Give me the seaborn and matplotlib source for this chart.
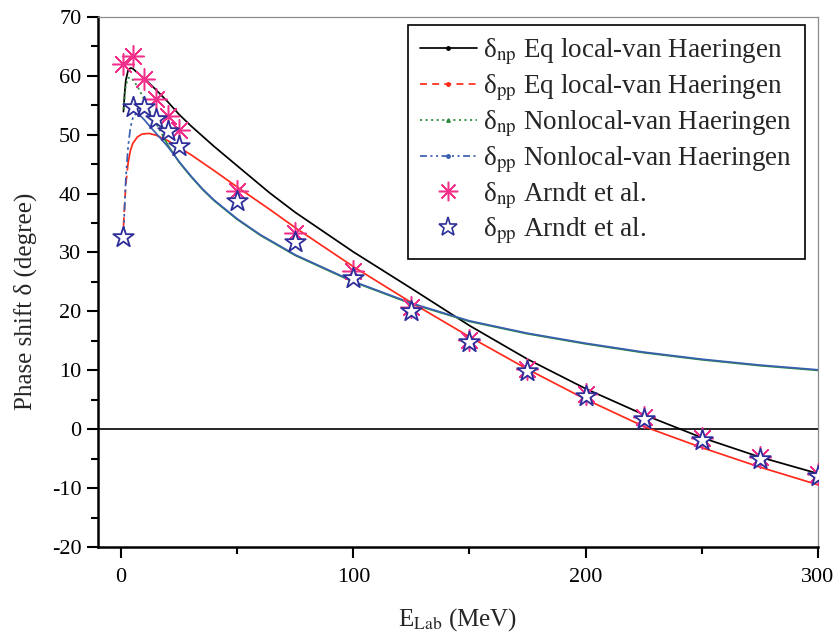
import matplotlib
matplotlib.use("Agg")
import matplotlib.pyplot as plt
from matplotlib.lines import Line2D
from matplotlib.ticker import MultipleLocator
import seaborn as sns

# ---- theoretical phase shifts (degrees) vs lab energy (MeV) ----
e_np_eq = [1, 1.5, 2, 3, 4, 5, 7, 10, 15, 20, 25, 30, 40, 50, 64, 75,
           100, 125, 150, 175, 200, 225, 250, 275, 300]
d_np_eq = [53.9, 57.0, 59.2, 60.9, 61.3, 61.2, 60.5, 59.5, 57.6, 55.6, 53.4,
           51.5, 48.0, 44.7, 40.1, 36.8, 30.1, 23.9, 17.6, 11.9, 6.9, 2.5,
           -1.4, -4.7, -7.5]

e_pp_eq = [1, 2, 3, 4, 5, 7, 9, 12, 15, 20, 25, 30, 40, 50, 64, 75,
           100, 125, 150, 175, 200, 225, 250, 275, 300]
d_pp_eq = [34.5, 41.5, 45.2, 47.3, 48.5, 49.6, 50.1, 50.2, 49.9, 49.0, 47.8,
           46.6, 43.9, 41.1, 37.3, 34.2, 27.6, 21.5, 15.7, 10.2, 5.1, 0.5,
           -3.1, -6.4, -9.4]

e_np_nl = [1, 2, 3, 4, 5, 7, 10, 12, 15, 18, 20, 25, 30, 35, 40, 50, 60, 75,
           100, 125, 150, 175, 200, 225, 250, 275, 300]
d_np_nl = [54.3, 58.3, 59.6, 59.7, 59.3, 58.2, 55.9, 54.2, 51.9, 49.8, 48.3,
           45.3, 42.9, 40.7, 38.8, 35.6, 32.9, 29.5, 25.0, 21.3, 18.3, 16.2,
           14.5, 13.0, 11.8, 10.8, 10.0]

e_pp_nl = [1, 2, 3, 4, 5, 6, 7, 8, 10, 13, 16, 20, 25, 30, 35, 40, 50, 60, 75,
           100, 125, 150, 175, 200, 225, 250, 275, 300]
d_pp_nl = [33.0, 42.5, 48.0, 51.2, 52.8, 53.4, 53.5, 53.3, 52.5, 51.1, 49.8,
           48.0, 45.4, 43.0, 40.8, 38.9, 35.7, 33.0, 29.6, 25.1, 21.4, 18.4,
           16.3, 14.6, 13.1, 11.9, 10.9, 10.1]

# ---- Arndt et al. phase-shift analysis ----
e_data = [1, 5, 10, 15, 20, 25, 50, 75, 100, 125, 150, 175, 200, 225, 250, 275, 300]
d_np_data = [62.0, 63.4, 59.5, 56.0, 53.1, 50.8, 40.5, 33.3, 26.9, 20.8, 15.2,
             10.3, 6.0, 2.1, -1.5, -4.7, -7.6]
d_pp_data = [32.7, 54.6, 54.6, 52.6, 50.6, 48.1, 38.8, 31.8, 25.6, 20.0, 14.8,
             9.9, 5.7, 1.7, -1.8, -5.0, -7.9]

x_ticks = [0, 100, 200, 300]
y_ticks = [-20, -10, 0, 10, 20, 30, 40, 50, 60, 70]

labels = [r"δ$_{\mathrm{np}}$ Eq local-van Haeringen",
          r"δ$_{\mathrm{pp}}$ Eq local-van Haeringen",
          r"δ$_{\mathrm{np}}$ Nonlocal-van Haeringen",
          r"δ$_{\mathrm{pp}}$ Nonlocal-van Haeringen",
          r"δ$_{\mathrm{np}}$ Arndt et al.",
          r"δ$_{\mathrm{pp}}$ Arndt et al."]

C_BLACK = "#000000"
C_RED = "#ff2a1a"
C_GREEN = "#2a8a3a"
C_BLUE = "#3a5fb0"
C_PINK = "#f2308c"
C_NAVY = "#2e2e9a"

sns.set_theme(style="ticks")
plt.rcParams["font.family"] = ["Liberation Serif", "DejaVu Serif"]
plt.rcParams["mathtext.fontset"] = "stix"
plt.rcParams["axes.unicode_minus"] = False

fig = plt.figure(figsize=(8.37, 6.43), dpi=100)
ax = fig.add_axes([0.117, 0.149, 0.977 - 0.117, 0.974 - 0.149])

LW = 1.25


def draw(xs, ys, color, split, style):
    """Sparse low-energy part in the series' own pattern, the rest solid."""
    if split > 0:
        sns.lineplot(x=xs[:split + 1], y=ys[:split + 1], color=color, lw=LW,
                     linestyle=style, sort=False, estimator=None, ax=ax)
    sns.lineplot(x=xs[split:], y=ys[split:], color=color, lw=LW,
                 linestyle="-", sort=False, estimator=None, ax=ax)


draw(e_np_eq, d_np_eq, C_BLACK, 0, "-")
draw(e_pp_eq, d_pp_eq, C_RED, 2, (0, (5, 3)))
draw(e_np_nl, d_np_nl, C_GREEN, 9, (0, (1.2, 1.8)))
draw(e_pp_nl, d_pp_nl, C_BLUE, 5, (0, (5, 2, 1.5, 2, 1.5, 2)))

ax.axhline(0, color="black", lw=1.2, zorder=1)

# data points
sns.scatterplot(x=e_data, y=d_np_data, marker=(8, 2, 0), s=240,
                color=C_PINK, linewidth=1.1, ax=ax, zorder=4)
sns.scatterplot(x=e_data, y=d_np_data, marker="o", s=9,
                color=C_PINK, linewidth=0, ax=ax, zorder=4)
sns.scatterplot(x=e_data, y=d_pp_data, marker="*", s=240,
                facecolor="white", edgecolor=C_NAVY, linewidth=1.3,
                ax=ax, zorder=5)

ax.set_xlim(-10, 300)
ax.set_ylim(-20, 70)
ax.set_xticks(x_ticks)
ax.set_yticks(y_ticks)
ax.xaxis.set_minor_locator(MultipleLocator(50))
ax.yaxis.set_minor_locator(MultipleLocator(5))

ax.tick_params(axis="both", which="major", direction="out", length=8,
               width=1.5, labelsize=16, color="black", labelcolor="black")
ax.tick_params(axis="x", which="major", pad=7)
ax.tick_params(axis="y", which="major", pad=4)
ax.tick_params(axis="both", which="minor", direction="out", length=5,
               width=1.5, color="black")
ax.tick_params(top=False, right=False, which="both")

for side in ("left", "bottom"):
    ax.spines[side].set_color("black")
    ax.spines[side].set_linewidth(1.8)
for side in ("top", "right"):
    ax.spines[side].set_visible(True)
    ax.spines[side].set_color("#8a8a8a")
    ax.spines[side].set_linewidth(0.9)

ax.set_xlabel(r"E$_{\mathrm{Lab}}$ (MeV)", fontsize=18, labelpad=14)
ax.set_ylabel("Phase shift δ (degree)", fontsize=18)
ax.yaxis.set_label_coords(-0.085, 0.464)

handles = [
    Line2D([], [], color=C_BLACK, lw=LW, ls="-", marker="o", ms=2.5),
    Line2D([], [], color=C_RED, lw=LW, ls=(0, (4, 3)), marker="o", ms=2.5),
    Line2D([], [], color=C_GREEN, lw=LW, ls=(0, (1.2, 2)), marker="^", ms=2.5),
    Line2D([], [], color=C_BLUE, lw=LW, ls=(0, (4, 2, 1.2, 2, 1.2, 2)),
           marker="o", ms=2.5),
    Line2D([], [], color=C_PINK, lw=0, marker=(8, 2, 0), ms=14, mew=1.1),
    Line2D([], [], color=C_NAVY, lw=0, marker="*", ms=14, mfc="white",
           mew=1.2),
]
leg = ax.legend(handles=handles, labels=labels, loc="upper right",
                bbox_to_anchor=(0.982, 0.985), borderaxespad=0,
                fontsize=19.5, handlelength=2.1, handletextpad=0.25,
                labelspacing=0.2, borderpad=0.45, numpoints=1,
                frameon=True, fancybox=False, framealpha=1)
leg.get_frame().set_edgecolor("black")
leg.get_frame().set_linewidth(1.2)

fig.savefig("out.png", dpi=100)
